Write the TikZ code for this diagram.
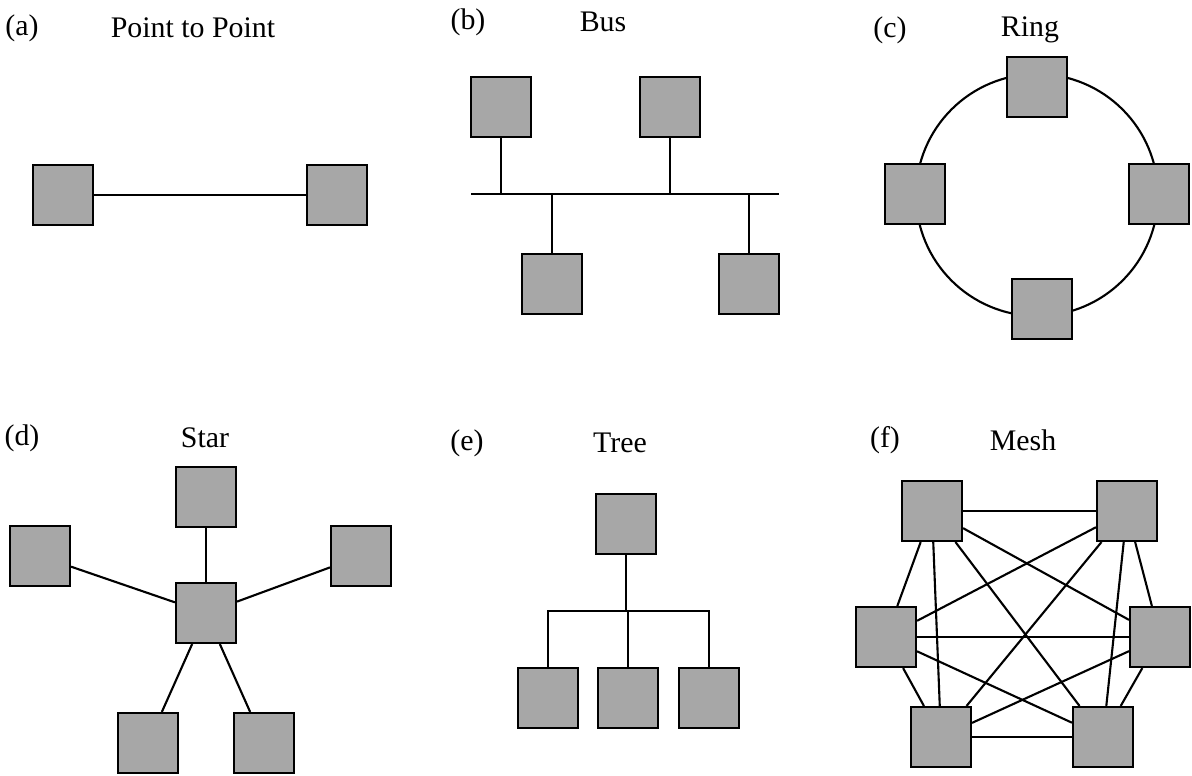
\documentclass[tikz,border=0pt]{standalone}
\usepackage{fontspec}
\setmainfont{Liberation Serif}
\usetikzlibrary{positioning}
\tikzset{
  station/.style={
    shape=rectangle,
    draw,
    line width=1.2pt,
    fill=gray!85!black!60,
    minimum width=1.2cm,
    minimum height=1.2cm,
    inner sep=0pt
  },
  title/.style={font=\fontsize{17}{20}\selectfont},
  link/.style={line width=1.2pt}
}
\begin{document}
\begin{tikzpicture}[x=0.02cm,y=-0.02cm]
\useasboundingbox (0,0) rectangle (1192,775);

% (a) point to point
\node[title] at (22,28) {(a)};
\node[title] at (193,28) {Point to Point};
\node[station] (a1) at (63,195) {};
\node[station] (a2) at (337,195) {};
\draw[link] (a1) -- (a2);

% (b) bus
\node[title] at (468,22) {(b)};
\node[title] at (603,22) {Bus};
\coordinate (busL) at (471,194);
\coordinate (busR) at (779,194);
\draw[link] (busL) -- (busR);
\node[station] (b1) at (501,107) {};
\node[station] (b2) at (670,107) {};
\node[station] (b3) at (552,284) {};
\node[station] (b4) at (749,284) {};
\foreach \b in {b1,b2,b3,b4}
  \draw[link] (\b) -- (\b |- busL);

% (c) ring
\node[title] at (890,30) {(c)};
\node[title] at (1030,30) {Ring};
\coordinate (ringC) at (1037,195);
\draw[link] (ringC) circle[radius=2.42cm];
\node[station] (c1) at (1037,87) {};
\node[station] (c2) at (915,194) {};
\node[station] (c3) at (1159,194) {};
\node[station] (c4) at (1042,309) {};

% (d) star
\node[title] at (22,438) {(d)};
\node[title] at (205,438) {Star};
\node[station] (hub) at (206,613) {};
\node[station] (d1) at (206,497) {};
\node[station] (d2) at (40,556) {};
\node[station] (d3) at (361,556) {};
\node[station] (d4) at (148,743) {};
\node[station] (d5) at (264,743) {};
\foreach \d in {d1,d2,d3,d4,d5}
  \draw[link] (hub) -- (\d);

% (e) tree
\node[title] at (467,443) {(e)};
\node[title] at (620,443) {Tree};
\node[station] (root) at (626,524) {};
\node[station] (e1) at (548,698) {};
\node[station] (e2) at (628,698) {};
\node[station] (e3) at (709,698) {};
\coordinate (branch) at (626,611);
\draw[link] (root) -- (branch);
\draw[link] (e1) |- (branch) -| (e3);
\draw[link] (e2) -- (e2 |- branch);

% (f) mesh
\node[title] at (885,440) {(f)};
\node[title] at (1023,440) {Mesh};
\node[station] (f1) at (932,511) {};
\node[station] (f2) at (1127,511) {};
\node[station] (f3) at (1160,637) {};
\node[station] (f4) at (1103,737) {};
\node[station] (f5) at (941,737) {};
\node[station] (f6) at (886,637) {};
\foreach \i in {1,...,5}{
  \pgfmathtruncatemacro{\n}{\i+1}
  \foreach \j in {\n,...,6}
    \draw[link] (f\i) -- (f\j);
}
\end{tikzpicture}
\end{document}
